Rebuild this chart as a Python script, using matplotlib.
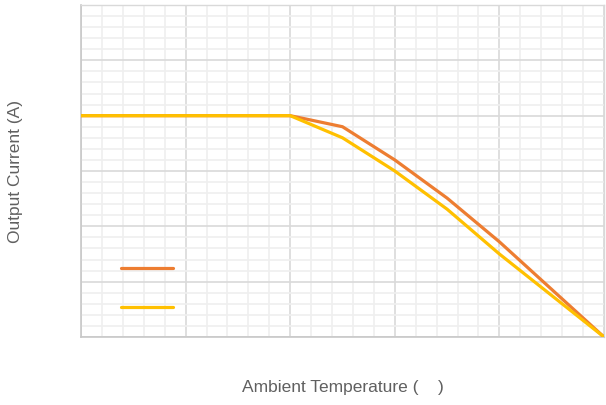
import matplotlib
matplotlib.use("Agg")
import matplotlib.pyplot as plt
from matplotlib.ticker import MultipleLocator
from matplotlib.lines import Line2D

plt.rcParams['font.family'] = ['Liberation Sans', 'DejaVu Sans']

# derating curves (x in arbitrary temperature units, y in A)
temps = [0, 40, 50, 60, 70, 80, 90, 100]
curve_a = [4.0, 4.0, 3.80, 3.20, 2.51, 1.72, 0.86, 0.0]
curve_b = [4.0, 4.0, 3.60, 3.00, 2.31, 1.50, 0.75, 0.0]
series_labels = ["", ""]

colors = {
    "a": "#ED7D31",
    "b": "#FFC000",
    "major": "#d9d9d9",
    "minor": "#efefef",
}

fig = plt.figure(figsize=(6.06, 4.06), dpi=100)
ax = fig.add_axes([81 / 606, 1 - 338 / 406, 523 / 606, 332 / 406])

ax.plot(temps, curve_a, color=colors["a"], lw=2.3, solid_capstyle="round", zorder=3)
ax.plot(temps, curve_b, color=colors["b"], lw=2.3, solid_capstyle="round", zorder=4)

ax.set_xlim(0, 100)
ax.set_ylim(0, 6)
ax.xaxis.set_major_locator(MultipleLocator(20))
ax.xaxis.set_minor_locator(MultipleLocator(4))
ax.yaxis.set_major_locator(MultipleLocator(1))
ax.yaxis.set_minor_locator(MultipleLocator(0.2))
ax.grid(which="major", color=colors["major"], lw=1.2, zorder=1)
ax.grid(which="minor", color=colors["minor"], lw=1.2, zorder=0)
ax.tick_params(which="both", length=0, labelbottom=False, labelleft=False)

for side in ["top", "right"]:
    ax.spines[side].set_color(colors["major"])
    ax.spines[side].set_linewidth(1.0)
for side in ["left", "bottom"]:
    ax.spines[side].set_color("#c8c8c8")
    ax.spines[side].set_linewidth(1.2)

handles = [Line2D([], [], color=colors["a"], lw=2.3, solid_capstyle="round"),
           Line2D([], [], color=colors["b"], lw=2.3, solid_capstyle="round")]
ax.legend(handles, series_labels, loc="lower left", bbox_to_anchor=(0.064, 0.046),
          frameon=False, handlelength=3.7, labelspacing=1.8, fontsize=10,
          handletextpad=0.3, borderpad=0)

ax.set_xlabel("Ambient Temperature (    )", fontsize=12.5, color="#606060", va="center")
ax.xaxis.set_label_coords(0.5, -0.15)
ax.set_ylabel("Output Current (A)", fontsize=12.5, color="#606060", va="center")
ax.yaxis.set_label_coords(-0.126, 0.5)

fig.savefig("out.png", dpi=100)
